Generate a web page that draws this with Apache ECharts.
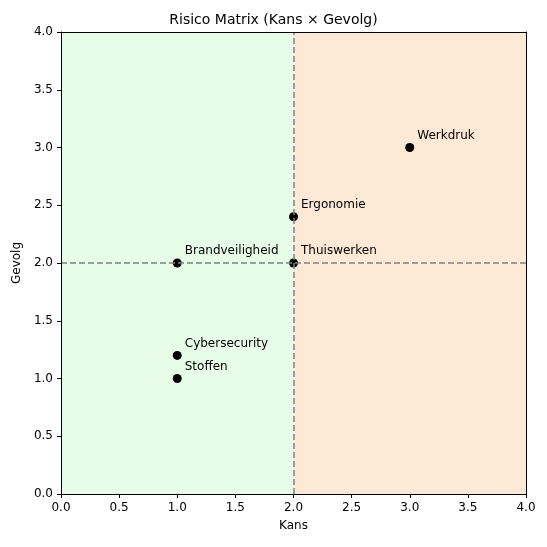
<!DOCTYPE html>
<html>
<head>
<meta charset="utf-8">
<script src="https://cdn.jsdelivr.net/npm/echarts@6/dist/echarts.min.js"></script>
<style>html,body{margin:0;padding:0;background:#fff}#c{width:547px;height:547px}</style>
</head>
<body>
<div id="c"></div>
<script>
// risico's
var names = ['Werkdruk', 'Ergonomie', 'Brandveiligheid', 'Thuiswerken', 'Cybersecurity', 'Stoffen'];
var kans = [3, 2, 1, 2, 1, 1];
var gevolg = [3, 2.4, 2, 2, 1.2, 1];
var threshold = 2;

var pts = names.map(function (n, i) { return { name: n, value: [kans[i], gevolg[i]] }; });
var font = 'DejaVu Sans';
var axisBase = {
    type: 'value',
    min: 0, max: 4, interval: 0.5,
    nameLocation: 'middle',
    nameTextStyle: { color: '#000', fontSize: 12, fontFamily: font },
    axisLine: { show: true, onZero: false, lineStyle: { color: '#000' } },
    axisTick: { show: true, length: 4, lineStyle: { color: '#000' } },
    axisLabel: { color: '#000', fontSize: 12, fontFamily: font, formatter: function (v) { return v.toFixed(1); } },
    splitLine: { show: false },
    z: 10
};
var frame = {
    type: 'value', min: 0, max: 4, interval: 0.5,
    axisLine: { show: true, onZero: false, lineStyle: { color: '#000' } },
    axisTick: { show: false }, axisLabel: { show: false }, splitLine: { show: false }, z: 10
};

var chart = echarts.init(document.getElementById('c'));
chart.setOption({
    animation: false,
    title: { text: 'Risico Matrix (Kans × Gevolg)', left: 'center', top: 8,
        textStyle: { fontSize: 14, fontWeight: 'normal', color: '#000', fontFamily: font } },
    grid: { left: 61, right: 21, top: 32, bottom: 53 },
    xAxis: [
        Object.assign({}, axisBase, { name: 'Kans', nameGap: 26 }),
        Object.assign({}, frame, { position: 'top' })
    ],
    yAxis: [
        Object.assign({}, axisBase, { name: 'Gevolg', nameGap: 38 }),
        Object.assign({}, frame, { position: 'right' })
    ],
    series: [{
        type: 'scatter',
        data: pts,
        symbolSize: 9,
        itemStyle: { color: '#000', opacity: 1 },
        label: { show: true, formatter: '{b}', position: 'right', offset: [-2, -12],
            color: '#000', opacity: 1, fontSize: 12, fontFamily: font },
        markArea: {
            silent: true,
            data: [
                [{ coord: [0, 0], itemStyle: { color: '#e8fde8', opacity: 1 } }, { coord: [threshold, 4] }],
                [{ coord: [threshold, 0], itemStyle: { color: '#fde9d6', opacity: 1 } }, { coord: [4, 4] }]
            ]
        },
        markLine: {
            silent: true, symbol: 'none', label: { show: false },
            lineStyle: { color: '#808080', type: [6, 3], width: 1.5, opacity: 1 },
            data: [{ xAxis: threshold }, { yAxis: threshold }]
        }
    }]
});
</script>
</body>
</html>
